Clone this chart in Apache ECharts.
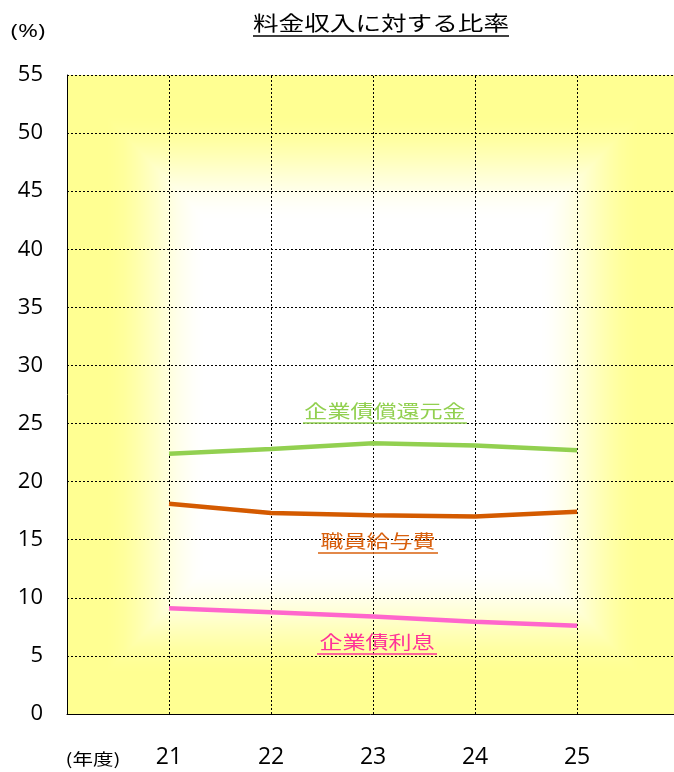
<!DOCTYPE html>
<html>
<head>
<meta charset="utf-8">
<script src="https://cdn.jsdelivr.net/npm/echarts@6/dist/echarts.min.js"></script>
<style>
  html, body { margin: 0; padding: 0; background: #fff; }
  #chart { width: 674px; height: 772px; }
</style>
</head>
<body>
<div id="chart"></div>
<script>
// 年度
const years = [21, 22, 23, 24, 25];
// 料金収入に対する比率 (%)
const redemption = [22.4, 22.8, 23.3, 23.1, 22.7];   // 企業債償還元金
const salaries   = [18.1, 17.3, 17.1, 17.0, 17.4];   // 職員給与費
const interest   = [9.1, 8.75, 8.4, 7.95, 7.6];      // 企業債利息
const yTicks = { min: 0, max: 55, interval: 5 };
// the year axis has one empty slot before the first year and runs off the right edge
const xRange = { min: 20, max: 25.95 };

const pairs = arr => arr.map((v, i) => [years[i], v]);

const GRID = { left: 67, top: 75, right: 0, height: 639 };
const PLOT_W = 674 - GRID.left - GRID.right;
const JP = '"Noto Sans CJK JP", sans-serif';
const NUM = '"Open Sans", "Noto Sans", sans-serif';
const DASH = { color: '#000', type: [2, 2], width: 1 };

// plot background: white centre fading to yellow towards the edges
function makeBackground(w, h) {
  const c = document.createElement('canvas');
  c.width = w; c.height = h;
  const ctx = c.getContext('2d');
  const img = ctx.createImageData(w, h);
  const hw = 305.5, hh = h / 2;
  const yellow = [255, 255, 146];
  const t0 = 0.54, t1 = 0.88;
  for (let y = 0; y < h; y++) {
    for (let x = 0; x < w; x++) {
      const t = Math.max(Math.abs(x + 0.5 - hw) / hw, Math.abs(y + 0.5 - hh) / hh);
      let k = (t - t0) / (t1 - t0);
      k = Math.max(0, Math.min(1, k));
      k = k * k * (3 - 2 * k);
      const i = (y * w + x) * 4;
      img.data[i]     = Math.round(255 + (yellow[0] - 255) * k);
      img.data[i + 1] = Math.round(255 + (yellow[1] - 255) * k);
      img.data[i + 2] = Math.round(255 + (yellow[2] - 255) * k);
      img.data[i + 3] = 255;
    }
  }
  ctx.putImageData(img, 0, 0);
  return c;
}

function wideText(text, cx, cy, size, color, sx, family) {
  return {
    type: 'text', x: cx, y: cy, scaleX: sx, scaleY: 1, z: 50,
    style: {
      text: text, fill: color, fontSize: size, fontFamily: family || JP,
      align: 'center', verticalAlign: 'middle'
    }
  };
}

function underlinedText(text, cx, cy, size, color, lineY, halfW, sx) {
  return [
    wideText(text, cx, cy, size, color, sx),
    {
      type: 'line', z: 50,
      shape: { x1: cx - halfW, y1: lineY, x2: cx + halfW, y2: lineY },
      style: { stroke: color, lineWidth: 1.5 }
    }
  ];
}

const chart = echarts.init(document.getElementById('chart'), null, { renderer: 'canvas' });

const graphics = [
  {
    type: 'image', x: GRID.left, y: GRID.top, z: -10, silent: true,
    style: { image: makeBackground(PLOT_W, GRID.height), x: 0, y: 0, width: PLOT_W, height: GRID.height }
  },
  wideText('(%)', 28, 32, 18, '#000', 1.35, NUM),
  wideText('(年度)', 93, 759, 16, '#000', 1.28)
].concat(
  underlinedText('料金収入に対する比率', 381, 23, 20, '#000', 36, 128, 1.28),
  underlinedText('企業債償還元金', 385, 411, 18, '#92D050', 423, 82, 1.28),
  underlinedText('職員給与費', 378, 541, 18, '#D8600E', 553, 60, 1.28),
  underlinedText('企業債利息', 377, 642, 18, '#FF3399', 654, 60, 1.28)
);

chart.setOption({
  animation: false,
  backgroundColor: '#fff',
  grid: { left: GRID.left, top: GRID.top, right: GRID.right, height: GRID.height, containLabel: false },
  graphic: graphics,
  xAxis: {
    type: 'value',
    min: xRange.min, max: xRange.max, interval: 1,
    axisLine: { show: true, lineStyle: { color: '#000', width: 1 } },
    axisTick: { show: false },
    axisLabel: {
      color: '#000', fontSize: 23, fontFamily: NUM, margin: 32,
      showMinLabel: false, showMaxLabel: false,
      formatter: v => (years.indexOf(v) >= 0 ? String(v) : '')
    },
    splitLine: { show: false }
  },
  yAxis: {
    type: 'value',
    min: yTicks.min, max: yTicks.max, interval: yTicks.interval,
    axisLine: { show: true, lineStyle: { color: '#000', width: 1 } },
    axisTick: { show: false },
    axisLabel: { color: '#000', fontSize: 22, fontFamily: NUM, margin: 24 },
    splitLine: { show: true, lineStyle: DASH }
  },
  series: [
    {
      // vertical year grid lines
      name: 'yearGrid', type: 'line', data: [], silent: true,
      markLine: {
        silent: true, symbol: 'none', z: 1, animation: false,
        label: { show: false },
        lineStyle: DASH,
        emphasis: { disabled: true },
        data: years.map(y => ({ xAxis: y }))
      }
    },
    {
      name: '企業債償還元金', type: 'line', data: pairs(redemption),
      symbol: 'none', lineStyle: { color: '#92D050', width: 4.5 }, z: 5
    },
    {
      name: '職員給与費', type: 'line', data: pairs(salaries),
      symbol: 'none', lineStyle: { color: '#D45A00', width: 4.5 }, z: 5
    },
    {
      name: '企業債利息', type: 'line', data: pairs(interest),
      symbol: 'none', lineStyle: { color: '#FF66CC', width: 4.5 }, z: 5
    }
  ]
});
</script>
</body>
</html>
